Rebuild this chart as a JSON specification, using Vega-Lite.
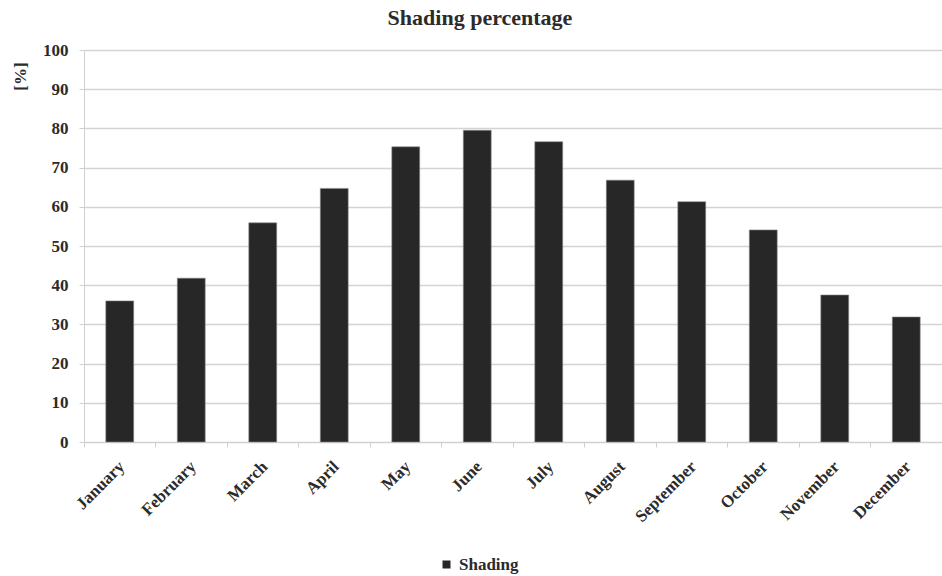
{
  "$schema": "https://vega.github.io/schema/vega-lite/v6.json",
  "autosize": {"type": "none"},
  "padding": {"left": 84, "top": 50, "right": 0, "bottom": 134},
  "width": 858,
  "height": 392,
  "background": "white",
  "title": {
    "text": "Shading percentage",
    "font": "Liberation Serif",
    "fontSize": 22,
    "fontWeight": "bold",
    "color": "#2b2b2b",
    "anchor": "middle",
    "dx": -33,
    "offset": 11
  },
  "data": {
    "values": [
      {"month": "January", "series": "Shading", "value": 36.0},
      {"month": "February", "series": "Shading", "value": 41.8},
      {"month": "March", "series": "Shading", "value": 55.9},
      {"month": "April", "series": "Shading", "value": 64.7},
      {"month": "May", "series": "Shading", "value": 75.3},
      {"month": "June", "series": "Shading", "value": 79.5},
      {"month": "July", "series": "Shading", "value": 76.6},
      {"month": "August", "series": "Shading", "value": 66.8},
      {"month": "September", "series": "Shading", "value": 61.3},
      {"month": "October", "series": "Shading", "value": 54.1},
      {"month": "November", "series": "Shading", "value": 37.5},
      {"month": "December", "series": "Shading", "value": 31.9}
    ]
  },
  "mark": {"type": "bar", "stroke": "#8a8a8a", "strokeWidth": 0.6},
  "encoding": {
    "x": {
      "field": "month",
      "type": "nominal",
      "sort": null,
      "scale": {"paddingInner": 0.61, "paddingOuter": 0.305},
      "axis": {
        "title": null,
        "labelAngle": -45,
        "labelFont": "Liberation Serif",
        "labelFontSize": 17,
        "labelFontWeight": "bold",
        "labelColor": "#2b2b2b",
        "bandPosition": 0,
        "tickOffset": -22,
        "labelOffset": 18,
        "tickColor": "#d0d0d0",
        "tickSize": 5,
        "domainColor": "#d0d0d0",
        "labelPadding": 11,
        "grid": false
      }
    },
    "y": {
      "field": "value",
      "type": "quantitative",
      "scale": {"domain": [0, 100]},
      "axis": {
        "title": "[%]",
        "titleFont": "Liberation Serif",
        "titleFontSize": 17,
        "titleFontWeight": "bold",
        "titleColor": "#2b2b2b",
        "titleAngle": -90,
        "titleX": -64,
        "titleY": 26,
        "titleAlign": "center",
        "titleBaseline": "middle",
        "values": [0, 10, 20, 30, 40, 50, 60, 70, 80, 90, 100],
        "labelFont": "Liberation Serif",
        "labelFontSize": 17,
        "labelFontWeight": "bold",
        "labelColor": "#2b2b2b",
        "labelPadding": 11,
        "tickColor": "#d0d0d0",
        "tickSize": 5,
        "domainColor": "#d0d0d0",
        "gridColor": "#d4d4d4",
        "gridWidth": 1.3
      }
    },
    "color": {
      "field": "series",
      "type": "nominal",
      "scale": {"range": ["#272727"]},
      "legend": {
        "title": null,
        "orient": "none",
        "legendX": 354,
        "legendY": 506,
        "padding": 0,
        "symbolType": "square",
        "symbolSize": 64,
        "symbolStrokeWidth": 0,
        "labelFont": "Liberation Serif",
        "labelFontSize": 17,
        "labelFontWeight": "bold",
        "labelColor": "#2b2b2b",
        "labelOffset": 4
      }
    }
  },
  "config": {
    "view": {"stroke": null}
  }
}
